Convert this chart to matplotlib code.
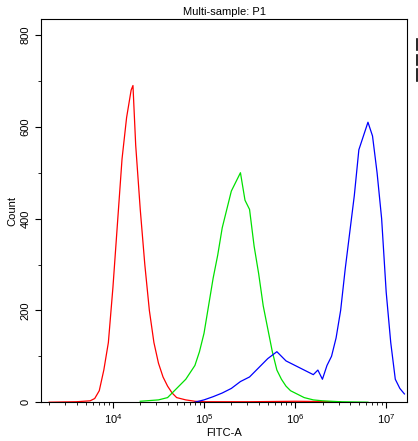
import numpy as np
import matplotlib
matplotlib.use("Agg")
import matplotlib.pyplot as plt
from matplotlib.lines import Line2D

red_x = [3.3,3.6,3.75,3.8,3.85,3.9,3.95,4.0,4.05,4.1,4.15,4.2,4.22,4.25,4.3,4.35,4.4,4.45,4.5,4.55,4.6,4.65,4.7,4.8,4.9,5.0,5.5,6.0,6.5]
red_y = [0,1,3,8,25,70,130,250,390,530,620,680,690,560,420,300,200,130,85,55,35,20,10,5,2,1,1,2,1]
green_x = [4.3,4.5,4.6,4.7,4.8,4.9,4.95,5.0,5.05,5.1,5.15,5.2,5.25,5.3,5.35,5.4,5.45,5.5,5.55,5.6,5.65,5.7,5.75,5.8,5.85,5.9,5.95,6.0,6.1,6.2,6.3,6.5,6.8]
green_y = [2,5,10,30,50,80,110,150,210,270,320,380,420,460,480,500,440,420,340,280,210,160,110,70,50,35,25,20,10,5,3,1,0]
blue_x = [4.9,5.0,5.1,5.2,5.3,5.4,5.5,5.6,5.7,5.8,5.85,5.9,6.0,6.1,6.2,6.25,6.3,6.35,6.4,6.45,6.5,6.55,6.6,6.65,6.7,6.75,6.8,6.85,6.9,6.95,7.0,7.05,7.1,7.15,7.2]
blue_y = [0,5,12,20,30,45,55,75,95,110,100,90,80,70,60,70,50,80,100,140,200,290,370,450,550,580,610,580,500,400,240,130,50,30,18]

plt.rcParams['font.family'] = ['Liberation Sans', 'DejaVu Sans']
fig = plt.figure(figsize=(4.18, 4.41), dpi=100)
ax = fig.add_axes([0.098, 0.088, 0.876, 0.869])
for xs, ys, c in [(red_x, red_y, 'red'), (green_x, green_y, '#00e000'), (blue_x, blue_y, 'blue')]:
    ax.plot(10**np.array(xs), ys, color=c, lw=0.9)
ax.set_xscale('log')
ax.set_xlim(10**3.21, 10**7.23)
ax.set_ylim(0, 835)
ax.set_yticks([0, 200, 400, 600, 800])
ax.set_yticks(range(0, 801, 100), minor=True)
for lab in ax.get_yticklabels():
    lab.set_rotation(90)
    lab.set_va('center')
ax.tick_params(labelsize=8, length=4, width=0.8)
ax.tick_params(which='minor', length=2)
ax.set_xlabel('FITC-A', fontsize=8, labelpad=1)
ax.set_ylabel('Count', fontsize=8, labelpad=2)
ax.set_title('Multi-sample: P1', fontsize=8, pad=3)
for y0, y1 in [(39, 50), (55, 65), (69, 81)]:
    fig.add_artist(Line2D([417/418, 417/418], [1 - y0/441, 1 - y1/441], color='black', lw=1.2))
fig.savefig('out.png', dpi=100)
